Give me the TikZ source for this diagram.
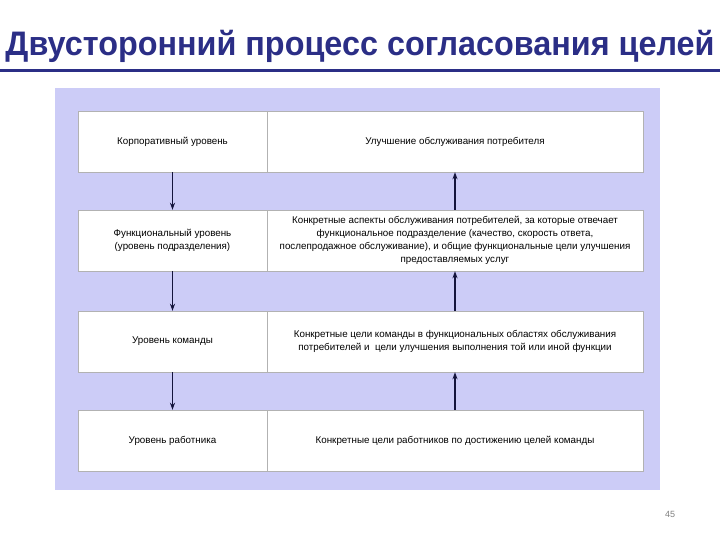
\documentclass[tikz,border=0pt]{standalone}
\usepackage{graphicx}
\usepackage{fontspec}
\setmainfont{Liberation Sans}
\usetikzlibrary{arrows.meta}
\definecolor{titleblue}{HTML}{2B2E86}
\definecolor{panelblue}{HTML}{CCCCF7}
\definecolor{arrowblue}{HTML}{14143C}

\begin{document}
\begin{tikzpicture}[x=1pt,y=-1pt,
 cell/.style={draw=gray!60,fill=white,minimum height=61pt,align=center,inner sep=2pt,font=\fontsize{9.8}{13}\selectfont},
 link/.style={arrowblue,line width=1.3pt,-{Stealth[length=7pt,width=5pt]}}]
 \useasboundingbox (0,0) rectangle (720,540);
 \node[font=\bfseries\fontsize{34}{34}\selectfont,text=titleblue] (title) at (360,46) {\scalebox{0.952}[1]{Двусторонний процесс согласования целей}};
 \draw[titleblue,line width=3pt] (0,71)--(720,71);
 \fill[panelblue] (55,88) rectangle (660,490);
 \foreach \i/\y/\l/\r in {1/141.5/{Корпоративный уровень}/{Улучшение обслуживания потребителя},
   2/240.5/{Функциональный уровень\\(уровень подразделения)}/{Конкретные аспекты обслуживания потребителей, за которые отвечает\\функциональное подразделение (качество, скорость ответа,\\послепродажное обслуживание), и общие функциональные цели улучшения\\предоставляемых услуг},
   3/341.5/{Уровень команды}/{Конкретные цели команды в функциональных областях обслуживания\\потребителей и \ цели улучшения выполнения той или иной функции},
   4/440.5/{Уровень работника}/{Конкретные цели работников по достижению целей команды}}
  {\node[cell,minimum width=189pt] (l\i) at (172.5,\y) {\l};
   \node[cell,minimum width=376pt] (r\i) at (455,\y) {\r};}
 \foreach \i/\j in {1/2,2/3,3/4}{\draw[link] (l\i)--(l\j);\draw[link] (r\j)--(r\i);}
 \node[text=gray,font=\fontsize{9}{9}\selectfont] (page) at (670,514) {45};
\end{tikzpicture}
\end{document}
